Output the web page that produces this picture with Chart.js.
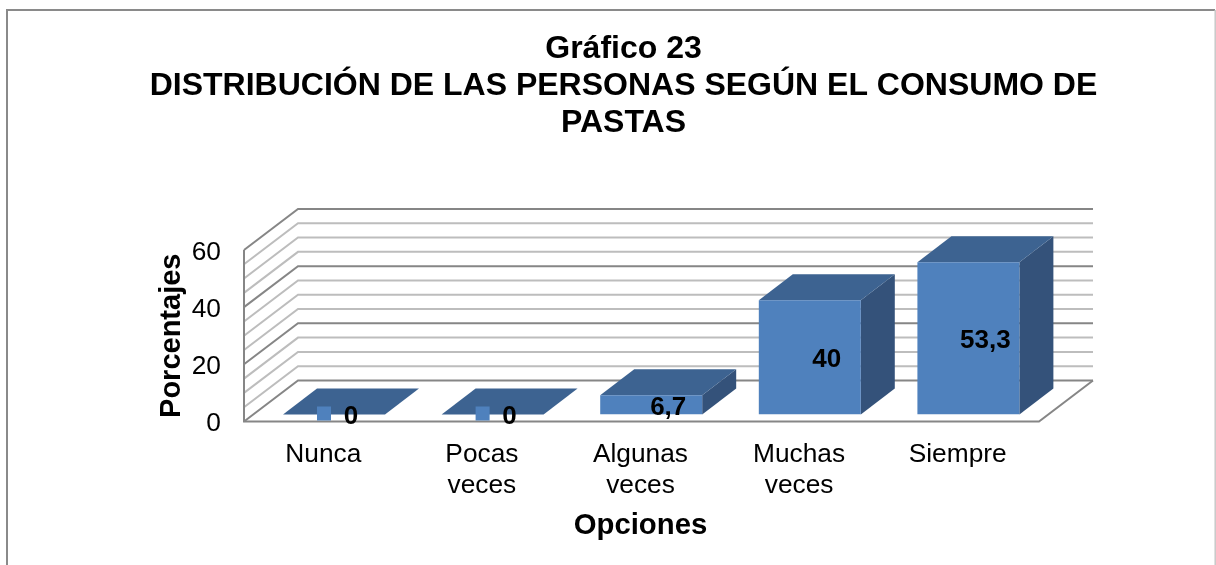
<!DOCTYPE html>
<html><head><meta charset="utf-8">
<script src="https://cdn.jsdelivr.net/npm/chart.js@4"></script>
<style>html,body{margin:0;padding:0;background:#fff}canvas{display:block}</style>
</head><body>
<canvas id="c" width="1216" height="565"></canvas>
<script>
const categories = [['Nunca'], ['Pocas', 'veces'], ['Algunas', 'veces'], ['Muchas', 'veces'], ['Siempre']];
const values = [0, 0, 6.7, 40, 53.3];
const titleLines = ['Gráfico 23', 'DISTRIBUCIÓN DE LAS PERSONAS SEGÚN EL CONSUMO DE', 'PASTAS'];
const xAxisTitle = 'Opciones';
const yAxisTitle = 'Porcentajes';
const majorStep = 20, minorStep = 5, yMax = 60;

const FONT = '"Liberation Sans", Arial, sans-serif';
const WALL = {dx: 54, dy: -41, rightExtra: 2};
const BAR_SHIFT = {dx: 10.7, dy: -7};
const BAR_DEPTH = {dx: 34, dy: -26};

const chart3d = {
  id: 'chart3d',
  beforeDraw(chart) {
    const c = chart.ctx;
    c.save();
    c.fillStyle = '#fff';
    c.fillRect(0, 0, chart.width, chart.height);
    c.strokeStyle = '#8a8a8a';
    c.lineWidth = 2;
    c.beginPath();
    c.moveTo(7, 565); c.lineTo(7, 10); c.lineTo(1215, 10);
    c.stroke();
    c.strokeStyle = '#c8c8c8';
    c.lineWidth = 1.5;
    c.beginPath();
    c.moveTo(1215.2, 10); c.lineTo(1215.2, 565);
    c.stroke();
    c.restore();
  },
  beforeDatasetsDraw(chart) {
    const c = chart.ctx, y = chart.scales.y, a = chart.chartArea;
    const right = a.right + WALL.rightExtra;
    c.save();
    for (let v = yMax; v >= 0; v -= minorStep) {
      const major = v % majorStep === 0, py = y.getPixelForValue(v);
      c.strokeStyle = major ? '#868686' : '#bdbdbd';
      c.lineWidth = 2;
      c.beginPath();
      c.moveTo(a.left, py);
      c.lineTo(a.left + WALL.dx, py + WALL.dy);
      c.lineTo(right + WALL.dx, py + WALL.dy);
      c.stroke();
    }
    const p0 = y.getPixelForValue(0), pm = y.getPixelForValue(yMax);
    c.strokeStyle = '#868686';
    c.lineWidth = 2;
    c.beginPath();
    c.moveTo(a.left, pm);
    c.lineTo(a.left, p0);
    c.lineTo(right, p0);
    c.lineTo(right + WALL.dx, p0 + WALL.dy);
    c.stroke();
    c.restore();
  },
  beforeDatasetDraw(chart, args) {
    const c = chart.ctx;
    c.save();
    c.translate(BAR_SHIFT.dx, BAR_SHIFT.dy);
    const d = BAR_DEPTH;
    args.meta.data.forEach(b => {
      const l = b.x - b.width / 2, r = b.x + b.width / 2;
      c.fillStyle = '#34527a';
      c.beginPath();
      c.moveTo(r, b.y); c.lineTo(r + d.dx, b.y + d.dy);
      c.lineTo(r + d.dx, b.base + d.dy); c.lineTo(r, b.base);
      c.closePath(); c.fill();
      c.fillStyle = '#3d6391';
      c.beginPath();
      c.moveTo(l, b.y); c.lineTo(r, b.y);
      c.lineTo(r + d.dx, b.y + d.dy); c.lineTo(l + d.dx, b.y + d.dy);
      c.closePath(); c.fill();
    });
  },
  afterDatasetDraw(chart) {
    chart.ctx.restore();
  },
  afterDatasetsDraw(chart) {
    const c = chart.ctx;
    const meta = chart.getDatasetMeta(0);
    c.save();
    c.font = 'bold 26px ' + FONT;
    c.textAlign = 'center';
    c.textBaseline = 'middle';
    meta.data.forEach((b, i) => {
      const cx = b.x + BAR_SHIFT.dx, mid = (b.y + b.base) / 2 + BAR_SHIFT.dy;
      if (values[i] === 0) {
        c.fillStyle = '#4f81bd';
        c.fillRect(cx - 17, mid - 8, 14, 14);
      }
      c.fillStyle = '#000';
      c.fillText(String(values[i]).replace('.', ','), cx + 17, mid + (values[i] === 0 ? 2 : 3));
    });
    c.restore();
  }
};

new Chart(document.getElementById('c'), {
  type: 'bar',
  data: {
    labels: categories,
    datasets: [{
      data: values,
      backgroundColor: '#4f81bd',
      barPercentage: 1,
      categoryPercentage: 0.643
    }]
  },
  plugins: [chart3d],
  options: {
    responsive: false,
    animation: false,
    layout: {padding: {left: 31, right: 0, top: 30.5, bottom: 0}},
    plugins: {
      legend: {display: false},
      tooltip: {enabled: false},
      title: {
        display: true,
        text: titleLines,
        color: '#000',
        font: {family: FONT, size: 32, weight: 'bold', lineHeight: 1.156},
        padding: {top: 0, bottom: 108.5}
      }
    },
    scales: {
      x: {
        grid: {display: false},
        border: {display: false},
        ticks: {color: '#000', font: {family: FONT, size: 26.3, lineHeight: 1.18}, padding: 10, maxRotation: 0, autoSkip: false},
        title: {display: true, text: xAxisTitle, color: '#000',
          font: {family: FONT, size: 29.3, weight: 'bold', lineHeight: 1.2}, padding: {top: 0, bottom: 21.6}},
        afterFit(s) { s.height = 143.5; }
      },
      y: {
        min: 0, max: yMax,
        grid: {display: false},
        border: {display: false},
        ticks: {stepSize: majorStep, color: '#000', font: {family: FONT, size: 26.3}, padding: 15, labelOffset: 2.5},
        title: {display: true, text: yAxisTitle, color: '#000',
          font: {family: FONT, size: 29, weight: 'bold', lineHeight: 1.2}, padding: {top: 124, bottom: 0}},
        afterFit(s) { s.width = 213; }
      },
      rightGutter: {
        position: 'right',
        min: 0, max: yMax,
        grid: {display: false},
        border: {display: false},
        ticks: {display: false},
        afterFit(s) { s.width = 179; }
      }
    }
  }
});
</script>
</body></html>
